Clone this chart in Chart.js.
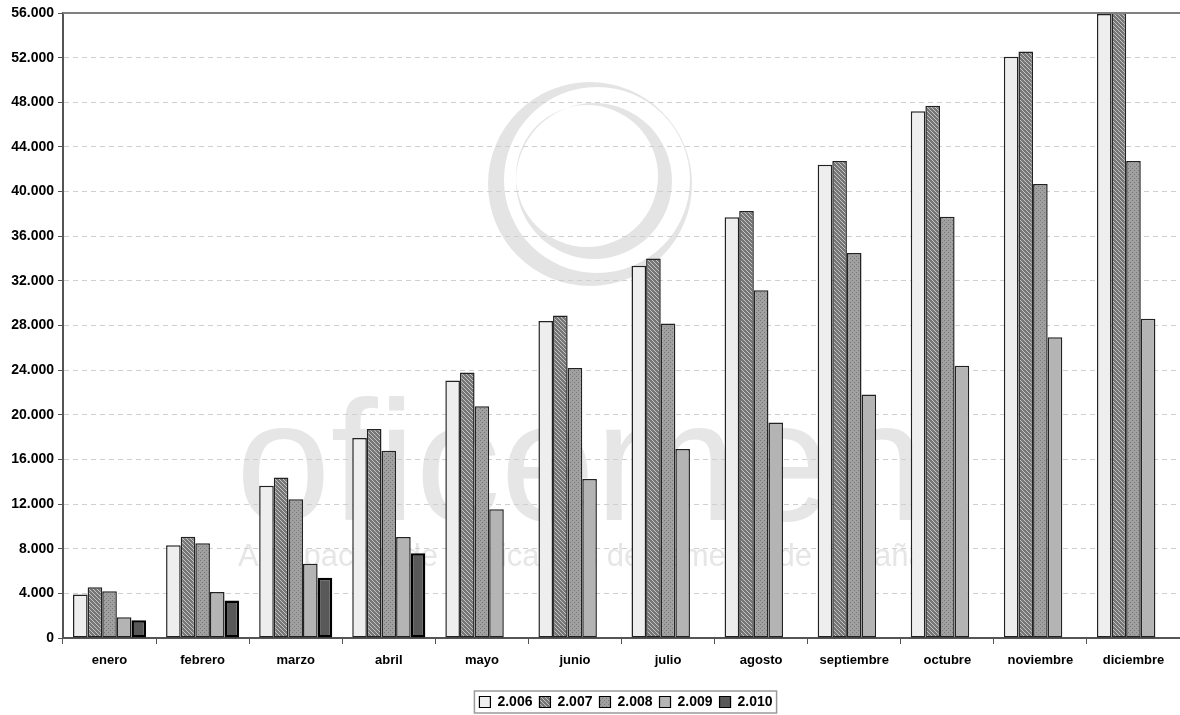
<!DOCTYPE html>
<html>
<head>
<meta charset="utf-8">
<script src="https://cdn.jsdelivr.net/npm/chart.js@4/dist/chart.umd.min.js"></script>
<style>
  html, body { margin:0; padding:0; background:#fff; }
  #wrap { width:1180px; height:715px; position:relative; }
</style>
</head>
<body>
<div id="wrap"><canvas id="chart"></canvas></div>
<script>
// ── Data ────────────────────────────────────────────────────
const months = ['enero','febrero','marzo','abril','mayo','junio','julio','agosto','septiembre','octubre','noviembre','diciembre'];
const years  = ['2.006','2.007','2.008','2.009','2.010'];
const d2006 = [3900, 8300, 13640, 17920, 23070, 28400, 33350, 37700, 42400, 47190, 52080, 55900];
const d2007 = [4550, 9080, 14380, 18730, 23800, 28900, 34000, 38260, 42750, 47700, 52560, 56000];
const d2008 = [4200, 8480, 12440, 16780, 20760, 24200, 28170, 31160, 34500, 37750, 40670, 42750];
const d2009 = [1860, 4130, 6650, 9050, 11540, 14240, 16930, 19300, 21820, 24400, 26950, 28600];
const d2010 = [1600, 3360, 5390, 7590, null, null, null, null, null, null, null, null];
const yTicks = [0, 4000, 8000, 12000, 16000, 20000, 24000, 28000, 32000, 36000, 40000, 44000, 48000, 52000, 56000];

const FONT = '"Liberation Sans", Arial, sans-serif';

// small tiled fills, like the Excel patterns
function pattern(bg, fg, kind) {
  const c = document.createElement('canvas');
  c.width = c.height = 4;
  const g = c.getContext('2d');
  g.fillStyle = bg; g.fillRect(0, 0, 4, 4);
  g.fillStyle = fg;
  if (kind === 'hatch') { for (let i = 0; i < 4; i++) g.fillRect(i, i, 1, 1); }
  else { g.fillRect(0, 0, 1, 1); g.fillRect(2, 2, 1, 1); }
  return g.createPattern(c, 'repeat');
}

const fills = [
  '#eeeeee',
  pattern('#767676', '#c4c4c4', 'hatch'),
  pattern('#a0a0a0', '#787878', 'dots'),
  '#b4b4b4',
  '#595959'
];
const series = [d2006, d2007, d2008, d2009, d2010];

const fmt = v => String(v).replace(/\B(?=(\d{3})+(?!\d))/g, '.');

// ── Watermark (behind grid) ─────────────────────────────────
function crescent(ctx, cx1, cy1, r1, cx2, cy2, r2) {
  ctx.beginPath();
  ctx.arc(cx1, cy1, r1, 0, Math.PI * 2);
  ctx.moveTo(cx2 + r2, cy2);
  ctx.arc(cx2, cy2, r2, 0, Math.PI * 2, true);
  ctx.fill('evenodd');
}

const watermark = {
  id: 'watermark',
  beforeDraw(chart) {
    const { ctx } = chart;
    ctx.save();
    ctx.fillStyle = '#e4e4e4';
    crescent(ctx, 590, 184, 102, 597, 180, 93);
    crescent(ctx, 594, 181, 78, 587, 176, 71);
    ctx.fillStyle = '#e6e6e6';
    ctx.textBaseline = 'alphabetic';
    ctx.font = '170px ' + FONT;
    ctx.fillText('oficemen', 236, 520);
    ctx.font = '31px ' + FONT;
    ctx.fillText('Agrupación de fabricantes de cemento de España', 238, 566);
    ctx.restore();
  }
};

// legend sits a little right of centre in the original
const LEGEND_SHIFT = 36;
const legendShift = {
  id: 'legendShift',
  afterLayout(chart) {
    const lg = chart.legend;
    lg.left += LEGEND_SHIFT; lg.right += LEGEND_SHIFT;
    (lg.legendHitBoxes || []).forEach(h => { h.left += LEGEND_SHIFT; });
  }
};

// ── Frame top line + legend box ─────────────────────────────
const frame = {
  id: 'frame',
  afterDraw(chart) {
    const { ctx, chartArea: a, legend } = chart;
    ctx.save();
    ctx.strokeStyle = '#808080';
    ctx.lineWidth = 2;
    ctx.beginPath(); ctx.moveTo(a.left, a.top); ctx.lineTo(a.right, a.top); ctx.stroke();
    const hb = legend.legendHitBoxes;
    if (hb && hb.length) {
      const x0 = hb[0].left - 5, y0 = hb[0].top - 4;
      const last = hb[hb.length - 1];
      const x1 = last.left + last.width + 4, y1 = last.top + last.height + 4;
      ctx.lineWidth = 1.5;
      ctx.strokeStyle = '#9a9a9a';
      ctx.strokeRect(x0, y0, x1 - x0, y1 - y0);
    }
    ctx.restore();
  }
};

new Chart(document.getElementById('chart'), {
  type: 'bar',
  data: {
    labels: months,
    datasets: years.map((y, i) => ({
      label: y,
      data: series[i],
      backgroundColor: fills[i],
      borderColor: i === 4 ? '#000' : '#222',
      borderWidth: i === 4 ? 2.5 : 1.5,
      borderSkipped: false,
      categoryPercentage: 0.785,
      barPercentage: 1.0
    }))
  },
  options: {
    responsive: true,
    maintainAspectRatio: false,
    animation: false,
    layout: { padding: { top: 13, right: 0, left: 0, bottom: -4 } },
    plugins: {
      tooltip: { enabled: false },
      legend: {
        position: 'bottom',
        labels: {
          color: '#000',
          boxWidth: 11, boxHeight: 11, padding: 7,
          font: { family: FONT, size: 14, weight: 'bold' },
          generateLabels(chart) {
            return chart.data.datasets.map((ds, i) => ({
              text: ds.label, fillStyle: ds.backgroundColor,
              strokeStyle: '#000', lineWidth: 1.2, datasetIndex: i, hidden: false
            }));
          }
        }
      }
    },
    scales: {
      x: {
        afterFit: s => { s.height = 50; },
        grid: { display: true, drawOnChartArea: false, drawTicks: true, tickLength: 6, tickColor: '#555', offset: true },
        border: { color: '#555', width: 2 },
        ticks: { color: '#000', padding: 9, font: { family: FONT, size: 13, weight: 'bold' }, maxRotation: 0 }
      },
      y: {
        min: 0, max: 56000,
        afterBuildTicks: s => { s.ticks = yTicks.map(v => ({ value: v })); },
        afterFit: s => { s.width = 63; },
        grid: { color: c => (c.tick && c.tick.value === 56000) ? 'rgba(0,0,0,0)' : '#cfcfcf', lineWidth: 1, tickLength: 5, tickColor: '#555' },
        border: { color: '#555', width: 2, dash: [5, 4] },
        ticks: { color: '#000', padding: 4, font: { family: FONT, size: 14, weight: 'bold' }, callback: v => fmt(v) }
      }
    }
  },
  plugins: [watermark, legendShift, frame]
});
</script>
</body>
</html>
